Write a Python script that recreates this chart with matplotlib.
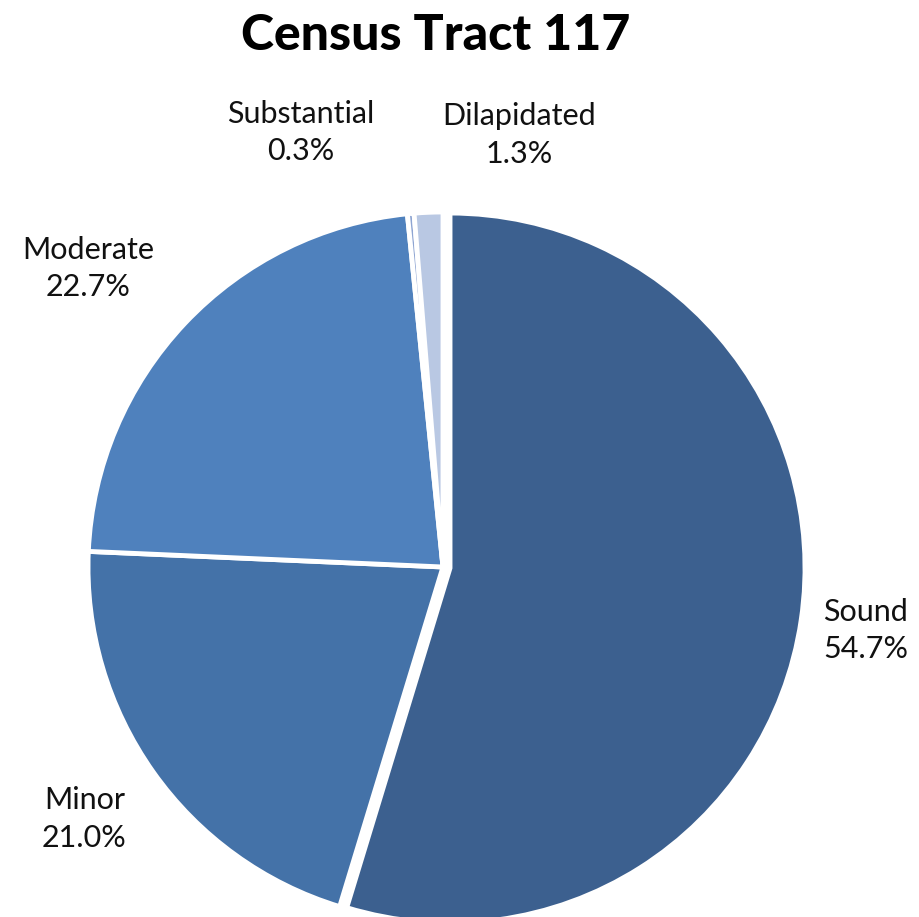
import matplotlib
matplotlib.use('Agg')
import matplotlib.pyplot as plt

# Housing condition shares, Census Tract 117
categories = ['Sound', 'Minor', 'Moderate', 'Substantial', 'Dilapidated']
shares = [54.7, 21.0, 22.7, 0.3, 1.3]
colors = ['#3C608F', '#4472A8', '#4F81BD', '#8EA5D2', '#B9C8E3']
explode = [0.02, 0.0, 0.0, 0.0, 0.0]

plt.rcParams['font.family'] = ['Lato', 'DejaVu Sans']

fig = plt.figure(figsize=(9.2, 9.17), dpi=100)
# axes laid out in pixels so the pie sits where we want it
W, H = 920, 917
cx, cy, r = 443, 567, 355
ax = fig.add_axes([(cx - r) / W, (H - cy - r) / H, 2 * r / W, 2 * r / H])

wedges, _ = ax.pie(shares, colors=colors, startangle=90, counterclock=False,
                   explode=explode, radius=1,
                   wedgeprops={'edgecolor': 'white', 'linewidth': 3.5})
for w in wedges:
    w.set_clip_on(False)
ax.set_xlim(-1, 1)
ax.set_ylim(-1, 1)
ax.axis('off')

label_pos = {
    'Sound': (1.19, -0.18),
    'Minor': (-1.01, -0.71),
    'Moderate': (-1.0, 0.84),
    'Substantial': (-0.40, 1.225),
    'Dilapidated': (0.214, 1.217),
}
for name, val in zip(categories, shares):
    x, y = label_pos[name]
    ax.text(x, y, f'{name}\n{val:.1f}%', ha='center', va='center',
            fontsize=22, color='#111111', linespacing=1.4, clip_on=False)

fig.text(436 / W, 1 - 35 / H, 'Census Tract 117', ha='center', va='center',
         fontsize=36, fontweight='black', color='black')

fig.savefig('out.png', dpi=100, facecolor='white')
